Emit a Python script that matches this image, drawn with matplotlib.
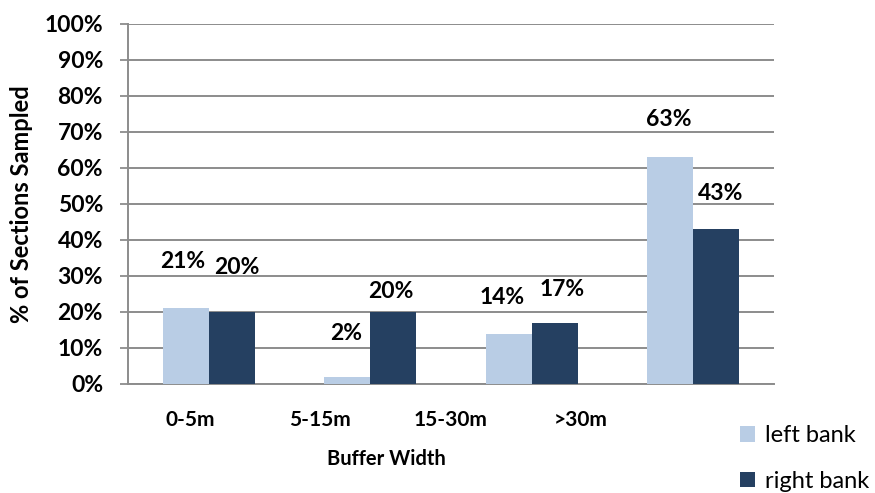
import matplotlib
matplotlib.use("Agg")
import matplotlib.pyplot as plt
import matplotlib.transforms as mtransforms
import numpy as np

plt.rcParams['font.family'] = ['Lato', 'DejaVu Sans']

categories = ["0-5m", "5-15m", "15-30m", ">30m"]
left_bank = [21, 2, 14, 63]
right_bank = [20, 20, 17, 43]
series_names = ["left bank", "right bank"]
ytick_values = [0, 10, 20, 30, 40, 50, 60, 70, 80, 90, 100]

# label offsets (pixels) relative to bar top centre, as in the reference layout
left_offsets = [(-3, 47), (-1, 43), (-7, 36), (-1, 38)]
right_offsets = [(5, 44), (-2, 21), (7, 33), (4, 36)]

light = "#B9CDE5"
dark = "#254061"
grid_c = "#8C8C8C"
FS = 16.5

W, H = 875, 493
fig = plt.figure(figsize=(W / 100, H / 100), dpi=100)
ax = fig.add_axes([128 / W, 1 - 384 / H, (774 - 128) / W, 360 / H])

x = np.arange(len(categories))
bw = 0.285
b1 = ax.bar(x - bw / 2, left_bank, bw, color=light, label=series_names[0], zorder=3)
b2 = ax.bar(x + bw / 2, right_bank, bw, color=dark, label=series_names[1], zorder=3)

for xi, v, (dx, dy) in zip(x - bw / 2, left_bank, left_offsets):
    ax.annotate(f"{v}%", xy=(xi, v), xytext=(dx, dy), textcoords="offset pixels",
                ha="center", va="center", fontsize=FS, fontweight="bold")
for xi, v, (dx, dy) in zip(x + bw / 2, right_bank, right_offsets):
    ax.annotate(f"{v}%", xy=(xi, v), xytext=(dx, dy), textcoords="offset pixels",
                ha="center", va="center", fontsize=FS, fontweight="bold")

ax.set_xlim(-0.5, len(categories) - 0.5)
ax.set_ylim(0, 100)
ax.set_yticks(ytick_values)
ax.set_yticklabels([f"{v}%" for v in ytick_values], fontsize=FS, fontweight="bold")
ax.tick_params(axis="y", length=6, width=1.3, color=grid_c, pad=12)
ax.set_xticks([])
ax.yaxis.grid(True, color=grid_c, linewidth=1.4, zorder=0)
ax.set_axisbelow(True)
for s in ["top", "right"]:
    ax.spines[s].set_visible(False)
for s in ["left", "bottom"]:
    ax.spines[s].set_color(grid_c)
    ax.spines[s].set_linewidth(1.4)

# category labels (shifted as in the reference)
trans = mtransforms.blended_transform_factory(ax.transData, ax.transAxes)
label_pos = np.arange(len(categories)) * 0.807 - 0.116
for p, c in zip(label_pos, categories):
    ax.text(p, -0.1, c, transform=trans, ha="center", va="center",
            fontsize=15, fontweight="bold")

fig.text(386 / W, 1 - 459 / H, "Buffer Width", ha="center", va="center",
         fontsize=14.5, fontweight="bold")
fig.text(22 / W, 1 - 204 / H, "% of Sections Sampled", ha="center", va="center",
         rotation=90, fontsize=17, fontweight="bold")

fig.legend(handles=[b1, b2], labels=series_names, loc="upper left",
           bbox_to_anchor=(740 / W, 1 - 425 / H), frameon=False, fontsize=17,
           handlelength=0.65, handleheight=0.65, handletextpad=0.4,
           labelspacing=1.05, borderpad=0, borderaxespad=0)

fig.savefig("out.png", dpi=100)
